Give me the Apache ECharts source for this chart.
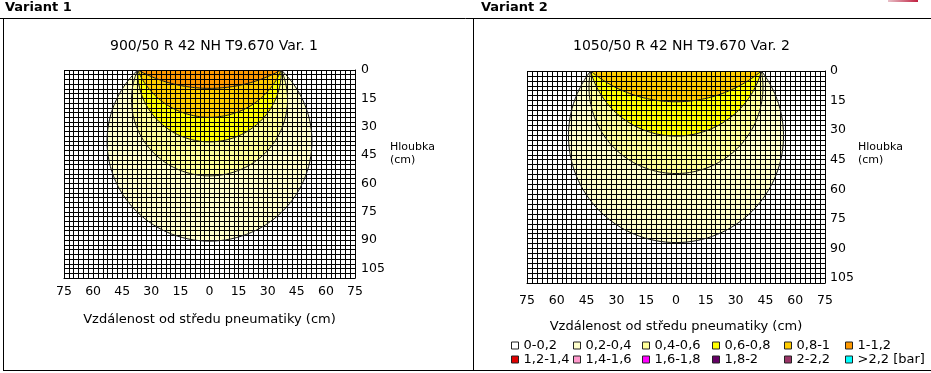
<!DOCTYPE html>
<html><head><meta charset="utf-8">
<script src="https://cdn.jsdelivr.net/npm/echarts@6/dist/echarts.min.js"></script>
<style>html,body{margin:0;padding:0;background:#fff;}#c{width:931px;height:373px;}</style>
</head><body><div id="c"></div>
<script>
// ---------- data ----------
const variantNames = ['Variant 1', 'Variant 2'];
const panelTitles = ['900/50 R 42 NH T9.670 Var. 1', '1050/50 R 42 NH T9.670 Var. 2'];
const xAxisName = 'Vzdálenost od středu pneumatiky (cm)';
const yAxisName = 'Hloubka\n(cm)';
const xTickValues = [-75, -60, -45, -30, -15, 0, 15, 30, 45, 60, 75];
const yTickValues = [0, 15, 30, 45, 60, 75, 90, 105];

const bandNames = ['0-0,2', '0,2-0,4', '0,4-0,6', '0,6-0,8', '0,8-1', '1-1,2',
                   '1,2-1,4', '1,4-1,6', '1,6-1,8', '1,8-2', '2-2,2', '>2,2 [bar]'];
const bandColors = ['#FFFFFF', '#FFFFCC', '#FFFF99', '#FFFF00', '#FFCC00', '#FF9900',
                    '#E00000', '#FF99CC', '#FF00FF', '#660066', '#993366', '#00FFFF'];
const bandStep = 0.2;

// isobars (pressure level in bar, depth of the isobar below the tyre centre in cm)
const v1IsoLevels = [0.2, 0.4, 0.6, 0.8, 1.0];
const v1IsoDepths = [90.5, 56, 38, 25, 9.7];
const v1LoadHalfWidth = 37;     // cm, edge of the contact where the isobars meet
const v2IsoLevels = [0.2, 0.4, 0.6, 0.8];
const v2IsoDepths = [87, 52, 33, 15.6];
const v2LoadHalfWidth = 43;

// ---------- chart ----------
const FONT = 'DejaVu Sans';
const chart = echarts.init(document.getElementById('c'), null, {renderer: 'canvas'});

function bandColorOf(level) { return bandColors[Math.round(level / bandStep)]; }

function arcPoints(api, a, d) {
  const c = (d * d - a * a) / (2 * d);
  const r = d - c;
  const th0 = Math.acos(Math.max(-1, Math.min(1, -c / r)));
  const pts = [];
  const n = 90;
  for (let i = 0; i <= n; i++) {
    const th = -th0 + 2 * th0 * i / n;
    pts.push(api.coord([r * Math.sin(th), c + r * Math.cos(th)]));
  }
  return pts;
}

function isoSeries(gi, levels, depths, halfWidth, outline) {
  return {
    type: 'custom', name: 'iso' + gi + (outline ? 'l' : 'f'),
    xAxisIndex: gi, yAxisIndex: gi, coordinateSystem: 'cartesian2d',
    z: outline ? 10 : 2, clip: true, silent: true,
    data: levels.map((l, i) => [l, depths[i]]),
    encode: {x: -1, y: -1},
    renderItem: function (params, api) {
      const lvl = api.value(0), d = api.value(1);
      const pts = arcPoints(api, halfWidth, d);
      if (outline) {
        return {type: 'polyline', shape: {points: pts},
          style: {fill: 'none', stroke: '#1a1a1a', lineWidth: 1}};
      }
      return {type: 'polygon', shape: {points: pts},
        style: {fill: bandColorOf(lvl), stroke: null}};
    }
  };
}

function xAxisCfg(gi, margin, nameGap) {
  return {
    gridIndex: gi, type: 'value', min: -75, max: 75, interval: 2.5, position: 'bottom', z: 5,
    axisLine: {show: true, onZero: false, lineStyle: {color: '#000', width: 1}},
    axisTick: {show: false},
    splitLine: {show: true, lineStyle: {color: '#000', width: 1}},
    axisLabel: {margin: margin, fontFamily: FONT, fontSize: 12.5, color: '#000',
      formatter: v => xTickValues.indexOf(Math.round(v * 100) / 100) >= 0 ? String(Math.abs(Math.round(v))) : ''},
    name: xAxisName, nameLocation: 'middle', nameGap: nameGap,
    nameTextStyle: {fontFamily: FONT, fontSize: 13, color: '#000'}
  };
}
function yAxisCfg(gi, max, margin) {
  return {
    gridIndex: gi, type: 'value', min: 0, max: max, interval: 2.5, inverse: true, position: 'right', z: 5,
    axisLine: {show: true, onZero: false, lineStyle: {color: '#000', width: 1}},
    axisTick: {show: false},
    splitLine: {show: true, lineStyle: {color: '#000', width: 1}},
    axisLabel: {margin: margin, fontFamily: FONT, fontSize: 12.5, color: '#000',
      formatter: v => yTickValues.indexOf(Math.round(v * 100) / 100) >= 0 ? String(Math.round(v)) : ''}
  };
}

const legendLeft = [511, 573, 642, 712, 784, 845];
const legends = [];
for (let ci = 0; ci < 6; ci++) {
  legends.push({
    orient: 'vertical', left: legendLeft[ci], top: 339, padding: 0, itemGap: 1,
    itemWidth: 7, itemHeight: 7, icon: 'rect', selectedMode: false,
    data: [bandNames[ci], bandNames[ci + 6]],
    itemStyle: {borderColor: '#222', borderWidth: 1},
    textStyle: {fontFamily: FONT, fontSize: 13, color: '#000'}
  });
}

const legendSeries = bandNames.map((n, i) => ({
  type: 'custom', name: n, xAxisIndex: 1, yAxisIndex: 1, data: [],
  itemStyle: {color: bandColors[i]}, renderItem: () => null
}));

const option = {
  animation: false,
  backgroundColor: '#fff',
  title: [
    {text: variantNames[0], left: 5, top: 1, padding: 0,
      textStyle: {fontFamily: FONT, fontWeight: 'bold', fontSize: 13, color: '#000'}},
    {text: variantNames[1], left: 481, top: 1, padding: 0,
      textStyle: {fontFamily: FONT, fontWeight: 'bold', fontSize: 13, color: '#000'}},
    {text: panelTitles[0], left: 110, top: 39, padding: 0,
      textStyle: {fontFamily: FONT, fontWeight: 'normal', fontSize: 14, color: '#000'}},
    {text: panelTitles[1], left: 573, top: 39, padding: 0,
      textStyle: {fontFamily: FONT, fontWeight: 'normal', fontSize: 14, color: '#000'}}
  ],
  grid: [
    {left: 64, top: 70, width: 291, height: 208},
    {left: 527, top: 71, width: 298, height: 212}
  ],
  xAxis: [xAxisCfg(0, 7, 35), xAxisCfg(1, 11, 37)],
  yAxis: [yAxisCfg(0, 110, 6), yAxisCfg(1, 107.5, 5)],
  legend: legends,
  series: [
    isoSeries(0, v1IsoLevels, v1IsoDepths, v1LoadHalfWidth, false),
    isoSeries(0, v1IsoLevels, v1IsoDepths, v1LoadHalfWidth, true),
    isoSeries(1, v2IsoLevels, v2IsoDepths, v2LoadHalfWidth, false),
    isoSeries(1, v2IsoLevels, v2IsoDepths, v2LoadHalfWidth, true)
  ].concat(legendSeries),
  graphic: [
    {type: 'line', shape: {x1: 0, y1: 18.5, x2: 931, y2: 18.5}, style: {stroke: '#000', lineWidth: 1}},
    {type: 'line', shape: {x1: 3.5, y1: 18, x2: 3.5, y2: 371}, style: {stroke: '#000', lineWidth: 1}},
    {type: 'line', shape: {x1: 473.5, y1: 18, x2: 473.5, y2: 371}, style: {stroke: '#000', lineWidth: 1}},
    {type: 'line', shape: {x1: 3, y1: 370.5, x2: 931, y2: 370.5}, style: {stroke: '#000', lineWidth: 1}},
    {type: 'rect', shape: {x: 888, y: 0, width: 30, height: 2},
      style: {fill: new echarts.graphic.LinearGradient(0, 0, 1, 0, [{offset: 0, color: '#e8c0c8'}, {offset: 1, color: '#c02040'}])}},
    {type: 'text', left: 390, top: 141,
      style: {text: yAxisName, fontFamily: FONT, fontSize: 11, lineHeight: 13, fill: '#000'}},
    {type: 'text', left: 858, top: 141,
      style: {text: yAxisName, fontFamily: FONT, fontSize: 11, lineHeight: 13, fill: '#000'}}
  ]
};
chart.setOption(option);
</script>
</body></html>
